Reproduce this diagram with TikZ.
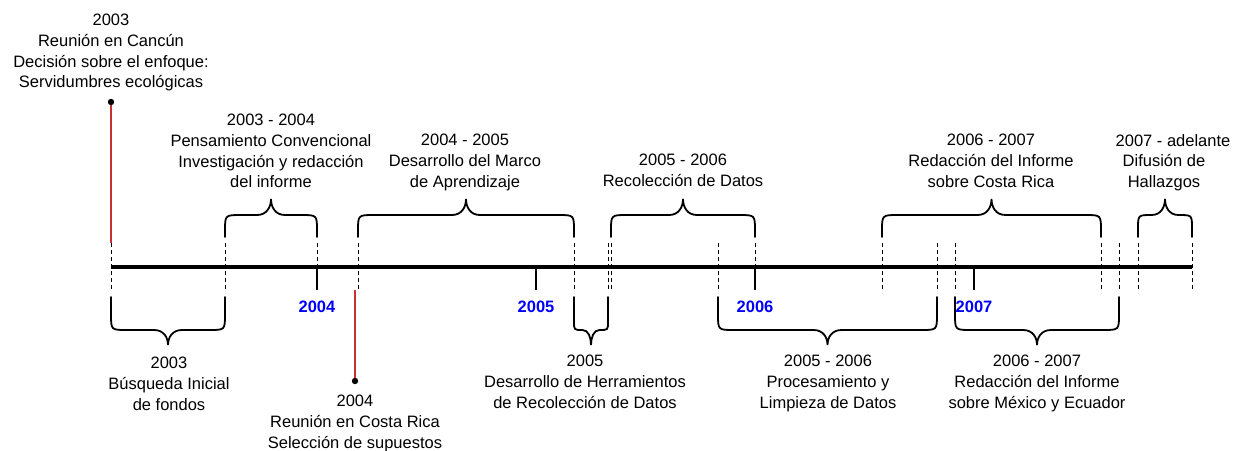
\documentclass[tikz,border=0pt]{standalone}
\usepackage{fontspec}
\setmainfont{Liberation Sans}
\definecolor{evred}{RGB}{200,50,50}
\definecolor{yearblue}{RGB}{0,0,255}

% one curly brace: left x, right x, end y, flat y, tip y
\newcommand{\timebrace}[5]{%
  \pgfmathsetmacro{\bC}{(#1+#2)/2}
  \pgfmathsetmacro{\bR}{min(16,(#2-#1)/4)}
  \pgfmathsetmacro{\bT}{min(14,(#2-#1)/4)}
  \pgfmathsetmacro{\bY}{#4+\bR*((#3>#4)*2-1)}
  \pgfmathsetmacro{\bM}{(#4+#5)/2}
  \draw[bracket] (#1,#3) -- (#1,\bY) .. controls (#1,#4) .. (#1+\bR,#4)
    -- (\bC-\bT,#4) .. controls (\bC-0.3*\bT,#4) and (\bC,\bM) .. (\bC,#5)
    .. controls (\bC,\bM) and (\bC+0.3*\bT,#4) .. (\bC+\bT,#4)
    -- (#2-\bR,#4) .. controls (#2,#4) .. (#2,\bY) -- (#2,#3);
}

\tikzset{
  axisline/.style={line width=3.5pt},
  guide/.style={line width=0.9pt, dash pattern=on 4pt off 3pt},
  bracket/.style={line width=1.8pt, line cap=round},
  yeartick/.style={line width=1.2pt},
  evline/.style={evred, line width=2pt},
  note/.style={align=center, inner sep=0pt, anchor=north,
    font=\fontsize{16.5}{20.7}\selectfont},
  yearlbl/.style={inner sep=0pt, text=yearblue,
    font=\fontsize{16.5}{20}\selectfont\bfseries},
}

\begin{document}
\begin{tikzpicture}[x=1pt, y=-1pt]
  \useasboundingbox (0,0) rectangle (1236,450);

  % time axis
  \coordinate (start) at (111,267);
  \coordinate (end) at (1192,267);
  \draw[axisline] (start) -- (end);

  % dashed guides at the ends of each period
  \foreach \x in {111,225,358,574,608,611,718,882,937,955,1101,1119,1138,1192}
    \draw[guide] (\x,243) -- (\x,290);
  \foreach \x in {317,755}
    \draw[guide] (\x,243) -- (\x,267);

  % years
  \foreach \x/\yr in {317/2004, 536/2005, 755/2006, 974/2007} {
    \draw[yeartick] (\x,267) -- (\x,290);
    \node[yearlbl] (y\yr) at (\x,307) {\yr};
  }

  % periods above the axis
  \foreach \a/\b in {225/317, 358/574, 611/755, 882/1101, 1138/1192}
    \timebrace{\a}{\b}{237}{215}{199};
  \node[note] (conv) at (271,114) {2003 - 2004\\Pensamiento Convencional\\Investigación y redacción\\del informe};
  \node[note] (marco) at (465,134) {2004 - 2005\\Desarrollo del Marco\\de Aprendizaje};
  \node[note] (recol) at (683,154) {2005 - 2006\\Recolección de Datos};
  \node[note] (costa) at (991,134) {2006 - 2007\\Redacción del Informe\\sobre Costa Rica};
  \node[note] (difus) at (1164,134) {\hspace*{18pt}2007 - adelante\\Difusión de\\Hallazgos};

  % periods below the axis
  \foreach \a/\b in {111/225, 574/608, 718/937, 955/1119}
    \timebrace{\a}{\b}{297}{330}{345};
  \node[note] (fondos) at (169,357) {2003\\Búsqueda Inicial\\de fondos};
  \node[note] (herram) at (585,355) {2005\\Desarrollo de Herramientos\\de Recolección de Datos};
  \node[note] (limp) at (828,355) {2005 - 2006\\Procesamiento y\\Limpieza de Datos};
  \node[note] (mexec) at (1037,355) {2006 - 2007\\Redacción del Informe\\sobre México y Ecuador};

  % meetings
  \coordinate (cancun dot) at (111,102);
  \coordinate (cancun foot) at (111,243);
  \draw[evline] (cancun dot) -- (cancun foot);
  \fill (cancun dot) circle (3.2);
  \node[note] (cancun) at (111,14) {2003\\Reunión en Cancún\\Decisión sobre el enfoque:\\Servidumbres ecológicas};

  \coordinate (costa dot) at (355,381);
  \coordinate (costa foot) at (355,290);
  \draw[evline] (costa foot) -- (costa dot);
  \fill (costa dot) circle (3.2);
  \node[note] (reunion) at (355,395) {2004\\Reunión en Costa Rica\\Selección de supuestos};
\end{tikzpicture}
\end{document}
